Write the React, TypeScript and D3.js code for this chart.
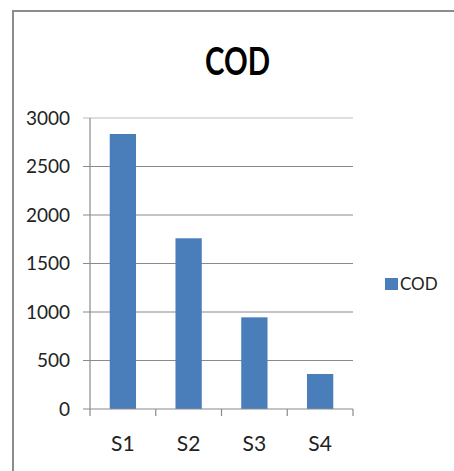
import React from "react";
import * as d3 from "d3";

const categories = ["S1", "S2", "S3", "S4"];
const codValues = [2835, 1760, 945, 361];
const yTicks = [0, 500, 1000, 1500, 2000, 2500, 3000];
const seriesName = "COD";
const title = "COD";

export default function App() {
  const W = 454, H = 471;
  const left = 90, right = 353, top = 118, bottom = 409;
  const x = d3.scaleBand<string>().domain(categories).range([left, right]).paddingInner(0.6).paddingOuter(0.3);
  const xb = d3.scaleBand<string>().domain(categories).range([left, right]);
  const y = d3.scaleLinear().domain([0, 3000]).range([bottom, top]);
  const blue = "#4a7ebb";
  const axis = "#8a8a8a";
  const font = "Lato, 'Open Sans', sans-serif";
  return (
    <svg width={W} height={H} style={{ position: "absolute", left: 0, top: 0, background: "#fff" }}>
      <rect x={13} y={11} width={470} height={480} fill="#fff" stroke="#8c8c8c" strokeWidth={2} />
      <text x={237.5} y={75} textAnchor="middle" fontFamily={font} fontWeight="bold" fontSize={39} textLength={65} lengthAdjust="spacingAndGlyphs" fill="#000">{title}</text>
      {yTicks.map((t) => (
        <g key={t}>
          {t > 0 && (
            <line x1={83} x2={right} y1={y(t)} y2={y(t)} stroke={t === 3000 ? "#bdbdbd" : axis} strokeWidth={1.2} />
          )}
          <text x={70} y={y(t)} dy="0.35em" textAnchor="end" fontFamily={font} fontSize={19} fill="#222">{t}</text>
        </g>
      ))}
      <line x1={left} x2={left} y1={top} y2={bottom} stroke={axis} strokeWidth={1.2} />
      {categories.map((c, i) => (
        <rect key={c} x={x(c)} y={y(codValues[i])} width={x.bandwidth()} height={bottom - y(codValues[i])} fill={blue} />
      ))}
      <line x1={83} x2={right} y1={bottom} y2={bottom} stroke={axis} strokeWidth={1.2} />
      {[...categories.map((c) => xb(c) as number), right].map((v, i) => (
        <line key={i} x1={v} x2={v} y1={bottom} y2={bottom + 7} stroke={axis} strokeWidth={1.2} />
      ))}
      {categories.map((c) => (
        <text key={c} x={(xb(c) as number) + xb.bandwidth() / 2} y={451} textAnchor="middle" fontFamily={font} fontSize={21} fill="#222">{c}</text>
      ))}
      <rect x={385} y={278} width={13} height={12} fill={blue} />
      <text x={400} y={284} dy="0.35em" fontFamily={font} fontSize={17} fill="#222">{seriesName}</text>
    </svg>
  );
}
